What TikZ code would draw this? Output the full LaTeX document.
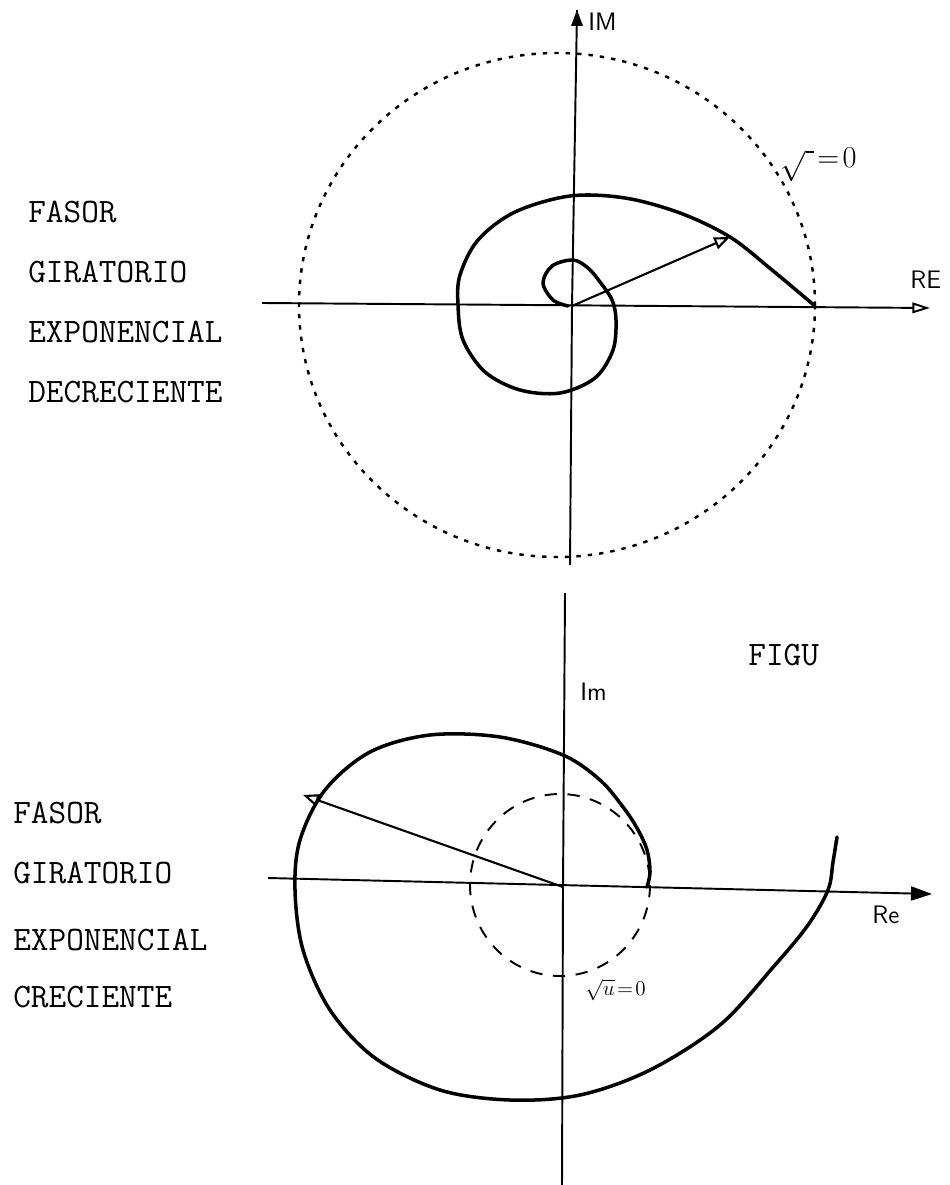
\documentclass[tikz,border=0pt]{standalone}
\usetikzlibrary{arrows.meta}
\tikzset{
  axisline/.style={line width=1.1pt},
  spiral/.style={line width=2pt, line join=round, line cap=round},
  phasor/.style={line width=1.2pt, -{Triangle[open, length=9pt, width=7pt]}},
  typed/.style={font=\ttfamily\fontsize{19.5}{22}\selectfont, anchor=west, inner sep=0pt},
  hand/.style={font=\sffamily\Large, inner sep=0pt},
}
\begin{document}
\begin{tikzpicture}[x=0.02cm, y=-0.02cm]
    \useasboundingbox (0,0) rectangle (949,1185);
    % decreasing phasor
    \coordinate (O1) at (572,306);
    \coordinate (ImTop) at (577,10);
    \coordinate (ImBot) at (570,565);
    \coordinate (ReL) at (262,303);
    \coordinate (ReR) at (930,308);
    \draw[axisline] (ImBot) -- (O1) -- (ImTop);
    \fill (ImTop) -- ++(-6,16) -- ++(12,0) -- cycle;
    \draw[axisline, -{Triangle[open, length=10pt, width=6pt]}] (ReL) -- (ReR);
    \node[hand, anchor=west] (im1) at (588,22) {IM};
    \node[hand, anchor=west] (re1) at (910,280) {RE};
    \draw[line width=1.4pt, dash pattern=on 2.5pt off 4pt] (557,305) ellipse [x radius=258, y radius=252];
    \node[hand, anchor=west] (s1) at (780,165) {\LARGE$\sqrt{\;}\!=\!0$};
    \draw[spiral] plot[smooth, tension=0.55] coordinates {
        (815,306) (772,270) (730,237) (680,213) (625,198) (570,196) (515,212)
        (478,240) (460,275) (458,305) (463,340) (485,372) (520,390) (560,393)
        (595,378) (613,350) (616,320) (612,300) (600,282) (588,268) (573,260)
        (552,266) (543,283) (553,300) (568,306)};
    \coordinate (P1) at (730,237);
    \draw[phasor] (O1) -- (P1);
    \node[typed] (t1) at (28,212) {FASOR};
    \node[typed] (t2) at (28,272) {GIRATORIO};
    \node[typed] (t3) at (28,332) {EXPONENCIAL};
    \node[typed] (t4) at (28,392) {DECRECIENTE};
    % increasing phasor
    \coordinate (O2) at (563,887);
    \coordinate (ImT2) at (565,593);
    \coordinate (ImB2) at (562,1185);
    \coordinate (ReL2) at (268,878);
    \coordinate (ReR2) at (932,894);
    \draw[axisline] (ImT2) -- (O2) -- (ImB2);
    \draw[axisline, -{Triangle[length=12pt, width=8pt]}] (ReL2) -- (ReR2);
    \node[hand, anchor=west] (im2) at (580,692) {Im};
    \node[hand, anchor=west] (re2) at (872,915) {Re};
    \node[typed, anchor=west] (fig) at (748,655) {FIGU};
    \draw[line width=1.1pt, dash pattern=on 7pt off 6pt] (560,885) ellipse [x radius=90, y radius=91];
    \node[hand, anchor=west] (s2) at (585,990) {\large$\sqrt{u}\!=\!0$};
    \draw[spiral] plot[smooth, tension=0.55] coordinates {
        (647,887) (650,872) (647,850) (637,828) (623,807) (600,780) (563,755)
        (500,737) (430,735) (370,752) (325,790) (300,840) (295,890) (303,950)
        (330,1010) (375,1058) (440,1090) (510,1100) (580,1095) (650,1070)
        (720,1025) (775,965) (808,925) (828,890) (833,862) (837,837)};
    \coordinate (P2) at (303,795);
    \draw[phasor] (O2) -- (P2);
    \node[typed] (b1) at (13,813) {FASOR};
    \node[typed] (b2) at (13,873) {GIRATORIO};
    \node[typed] (b3) at (13,940) {EXPONENCIAL};
    \node[typed] (b4) at (13,997) {CRECIENTE};
\end{tikzpicture}
\end{document}
